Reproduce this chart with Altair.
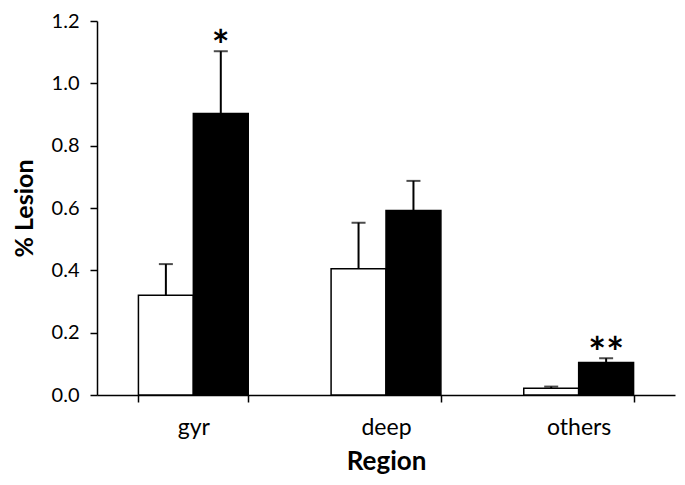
import altair as alt
import pandas as pd

regions = ["gyr", "deep", "others"]
groups = ["Group 1", "Group 2"]
group1_vals = [0.32, 0.405, 0.022]
group1_err = [0.10, 0.148, 0.005]
group2_vals = [0.903, 0.592, 0.104]
group2_err = [0.200, 0.095, 0.014]
group1_sig = ["", "", ""]
group2_sig = ["*", "", "**"]

rows = []
for i, r in enumerate(regions):
    rows.append({"region": r, "group": groups[0], "value": group1_vals[i],
                 "top": group1_vals[i] + group1_err[i], "sig": group1_sig[i]})
    rows.append({"region": r, "group": groups[1], "value": group2_vals[i],
                 "top": group2_vals[i] + group2_err[i], "sig": group2_sig[i]})
df = pd.DataFrame(rows)

FONT = "Lato"

base = alt.Chart(df).encode(
    x=alt.X(
        "region:N",
        sort=regions,
        scale=alt.Scale(paddingInner=0.43, paddingOuter=0.215),
        axis=alt.Axis(
            title="Region",
            labelAngle=0,
            tickBand="extent",
            domainColor="black",
            domainWidth=1.5,
            tickColor="black",
            tickWidth=1.5,
            tickSize=7,
            labelFont=FONT,
            labelFontSize=23,
            labelColor="black",
            labelPadding=14,
            titleFont=FONT,
            titleFontSize=26,
            titleFontWeight="bold",
            titleColor="black",
            titlePadding=9,
        ),
    ),
    xOffset=alt.XOffset("group:N", sort=groups,
                        scale=alt.Scale(paddingInner=0, paddingOuter=0)),
)

yscale = alt.Scale(domain=[0, 1.2])

bars = base.mark_bar(stroke="black", strokeWidth=1.5).encode(
    y=alt.Y(
        "value:Q",
        scale=yscale,
        axis=alt.Axis(
            title="% Lesion",
            values=[0, 0.2, 0.4, 0.6, 0.8, 1.0, 1.2],
            format=".1f",
            grid=False,
            domainColor="black",
            domainWidth=1.5,
            tickColor="black",
            tickWidth=1.5,
            tickSize=7,
            labelFont=FONT,
            labelFontSize=20,
            labelColor="black",
            labelPadding=11,
            titleFont=FONT,
            titleFontSize=25,
            titleFontWeight="bold",
            titleColor="black",
            titlePadding=14,
        ),
    ),
    color=alt.Color("group:N", scale=alt.Scale(domain=groups, range=["white", "black"]),
                    legend=None),
)

stems = base.mark_rule(color="black", strokeWidth=2).encode(
    y=alt.Y("value:Q", scale=yscale), y2="top:Q"
)
caps = base.mark_tick(color="black", thickness=2, size=14, orient="horizontal").encode(
    y=alt.Y("top:Q", scale=yscale)
)
stars = base.mark_text(font=FONT, fontSize=42, fontWeight="bold", baseline="alphabetic",
                       dy=10, color="black").encode(
    y=alt.Y("top:Q", scale=yscale), text="sig:N"
)

chart = alt.layer(bars, stems, caps, stars).properties(
    width=578,
    height=374,
    autosize=alt.AutoSizeParams(type="none"),
    padding={"left": 89, "top": 13, "right": 2, "bottom": 82},
).configure_view(stroke=None)

chart.save("out.html", embed_options={"renderer": "svg", "actions": False})
